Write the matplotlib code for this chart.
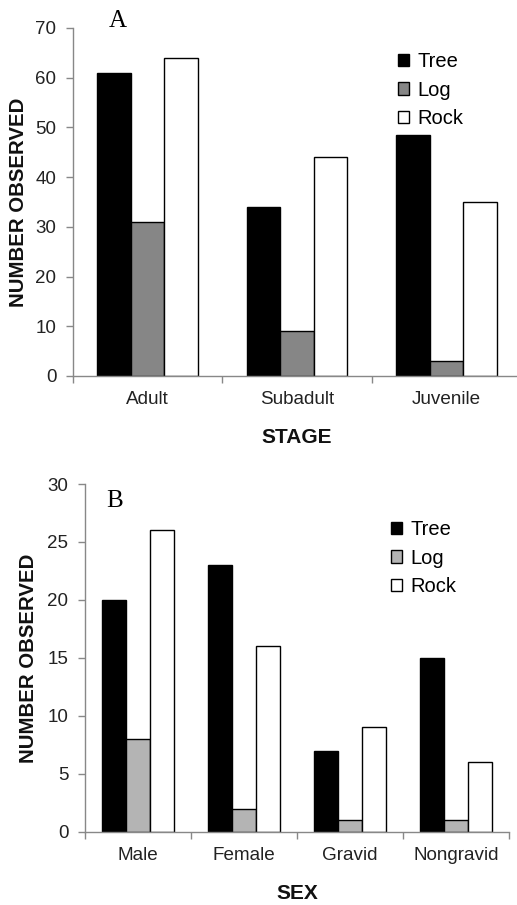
import numpy as np
import matplotlib.pyplot as plt

plt.rcParams['font.family'] = ['Liberation Sans', 'DejaVu Sans']

# panel A: habitat use by stage
stages = ["Adult", "Subadult", "Juvenile"]
tree_a = [61, 34, 48.5]
log_a = [31, 9, 3]
rock_a = [64, 44, 35]

# panel B: habitat use by sex
sexes = ["Male", "Female", "Gravid", "Nongravid"]
tree_b = [20, 23, 7, 15]
log_b = [8, 2, 1, 1]
rock_b = [26, 16, 9, 6]

series_names = ["Tree", "Log", "Rock"]

W, H = 517, 905
fig = plt.figure(figsize=(W / 100, H / 100), dpi=100)


def px_axes(left, right, top, bottom):
    return fig.add_axes([left / W, 1 - bottom / H, (right - left) / W, (bottom - top) / H])


def draw_panel(ax, cats, tree, log, rock, log_color, ymax, ystep, xlabel, lab_x, leg_xy):
    x = np.arange(len(cats))
    bw = 0.225
    colors = ["black", log_color, "white"]
    for i, (vals, c, name) in enumerate(zip([tree, log, rock], colors, series_names)):
        ax.bar(x + (i - 1) * bw, vals, bw, color=c, edgecolor="black",
               linewidth=1.0, label=name, zorder=2)
    ax.set_xlim(-0.5, len(cats) - 0.5)
    ax.set_ylim(0, ymax)
    ax.set_yticks(np.arange(0, ymax + 1, ystep))
    ax.set_xticks(x)
    ax.set_xticklabels(cats)
    ax.set_xticks(np.arange(-0.5, len(cats), 1.0), minor=True)
    ax.tick_params(axis="x", which="major", length=0, pad=11, labelsize=13.6, labelcolor="#222222")
    ax.tick_params(axis="x", which="minor", length=5, width=1, color="#888888", direction="out")
    ax.tick_params(axis="y", length=5, width=1, color="#888888", pad=7, labelsize=13.5,
                   labelcolor="#222222")
    for s in ["top", "right"]:
        ax.spines[s].set_visible(False)
    for s in ["left", "bottom"]:
        ax.spines[s].set_color("#888888")
        ax.spines[s].set_linewidth(1.0)
    ax.set_ylabel("NUMBER OBSERVED", fontsize=14.7, fontweight="bold", color="#111111")
    ax.yaxis.set_label_coords(lab_x, 0.5)
    ax.set_xlabel(xlabel, fontsize=15, fontweight="bold", color="#111111")
    ax.xaxis.set_label_coords(0.5, -0.15)
    ax.legend(loc="upper left", bbox_to_anchor=(leg_xy[0] / W, 1 - leg_xy[1] / H),
              bbox_transform=fig.transFigure, frameon=False, fontsize=14.5,
              handlelength=0.55, handleheight=0.55, handletextpad=0.4,
              labelspacing=0.48, borderpad=0, borderaxespad=0)


ax_a = px_axes(73, 521, 28, 376)
draw_panel(ax_a, stages, tree_a, log_a, rock_a, "#868686", 70, 10, "STAGE", -0.100, (398, 52))
fig.text(117.8 / W, 1 - 20.8 / H, "A", ha="center", va="center",
         family="Liberation Serif", fontsize=18)

ax_b = px_axes(85, 509, 484, 831.7)
draw_panel(ax_b, sexes, tree_b, log_b, rock_b, "#b4b4b4", 30, 5, "SEX", -0.111, (391, 520))
fig.text(115 / W, 1 - 500.8 / H, "B", ha="center", va="center",
         family="Liberation Serif", fontsize=18)

fig.savefig("out.png", dpi=100)
